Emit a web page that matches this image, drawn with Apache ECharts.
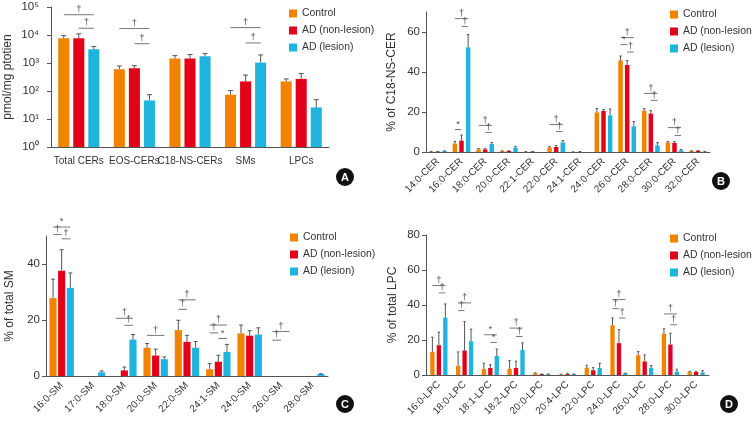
<!DOCTYPE html>
<html>
<head>
<meta charset="utf-8">
<script src="https://cdn.jsdelivr.net/npm/echarts@6/dist/echarts.min.js"></script>
<style>html,body{margin:0;padding:0;background:#fff}#c{width:752px;height:423px}</style>
</head>
<body>
<div id="c"></div>
<script>
// ---------- data ----------
const seriesNames = ['Control', 'AD (non-lesion)', 'AD (lesion)'];

// Panel A (pmol/mg protein, log scale)
const catA = ['Total CERs', 'EOS-CERs', 'C18-NS-CERs', 'SMs', 'LPCs'];
const ctrlA = [7600, 600, 1440, 74, 220];
const nlA = [7600, 650, 1440, 220, 270];
const lesA = [3100, 46, 1730, 1030, 26];
const ctrlAErr = [9500, 780, 1830, 103, 270];
const nlAErr = [11000, 800, 2000, 370, 420];
const lesAErr = [3900, 74, 2170, 1940, 49];
// [category, fromGroup, toGroup, height, mark]
const sigA = [[0,0,2,53000,'†'],[0,1,2,17400,'†'],[1,0,2,17000,'†'],[1,1,2,4900,'†'],[3,0,2,18400,'†'],[3,1,2,5200,'†']];

// Panel B (% of C18-NS-CER)
const catB = ['14:0-CER','16:0-CER','18:0-CER','20:0-CER','22:1-CER','22:0-CER','24:1-CER','24:0-CER','26:0-CER','28:0-CER','30:0-CER','32:0-CER'];
const ctrlB = [0.2, 4.2, 1.3, 0.5, 0.1, 2.3, 0.05, 19.8, 45.8, 20.7, 4.8, 0.5];
const nlB = [0.2, 5.7, 1.3, 0.5, 0.2, 2.5, 0.1, 20.5, 43.5, 19.2, 4.5, 0.6];
const lesB = [0.5, 52.3, 4.0, 2.2, 0, 4.8, 0, 18.3, 12.8, 3.3, 0.8, 0.2];
const ctrlBErr = [0.3, 5.2, 1.7, 0.6, 0.2, 2.8, 0.1, 21.8, 48.0, 21.7, 5.2, 0.6];
const nlBErr = [0.3, 8.5, 1.8, 0.6, 0.3, 3.2, 0.2, 21.2, 45.7, 20.7, 5.2, 0.7];
const lesBErr = [0.6, 58.7, 4.8, 2.8, 0, 5.7, 0, 21.5, 15.2, 4.7, 1.2, 0.3];
const sigB = [[1,0,1,11.2,'*'],[1,0,2,66.7,'†'],[1,1,2,62.8,'†'],[2,0,2,13.3,'†'],[2,1,2,9.8,'†'],[5,0,2,13.7,'†'],[5,1,2,10.2,'†'],[8,0,2,57.2,'†'],[8,0,1,53.7,'*'],[8,1,2,50,'†'],[9,0,2,29.3,'†'],[9,1,2,25.8,'†'],[10,0,2,12.2,'†'],[10,1,2,8.3,'†']];
const ticksB = [0, 20, 40, 60];

// Panel C (% of total SM)
const catC = ['16:0-SM','17:0-SM','18:0-SM','20:0-SM','22:0-SM','24:1-SM','24:0-SM','26:0-SM','28:0-SM'];
const ctrlC = [27.8, 0, 0, 10.1, 16.4, 2.4, 15.2, 0, 0];
const nlC = [37.6, 0, 2.0, 7.3, 12.2, 5.1, 14.4, 0, 0];
const lesC = [31.5, 1.3, 13.0, 6.0, 10.1, 8.6, 14.8, 0, 0.7];
const ctrlCErr = [34.6, 0, 0, 11.6, 19.9, 4.4, 18.2, 0, 0];
const nlCErr = [45.1, 0, 3.2, 9.6, 14.5, 7.4, 16.2, 0, 0];
const lesCErr = [36.8, 1.8, 14.8, 6.8, 12.3, 11.3, 17.2, 0, 0.8];
const sigC = [[0,0,2,53.2,'*'],[0,0,1,50.5,'†'],[0,1,2,49,'†'],[2,0,2,20.6,'†'],[2,1,2,18.1,'†'],[3,0,2,14.5,'†'],[4,0,2,27.2,'†'],[4,0,1,23.8,'†'],[5,0,2,18.2,'†'],[5,0,1,15.4,'†'],[5,1,2,13.4,'*'],[7,0,2,15.9,'†'],[7,0,1,12.8,'†']];
const ticksC = [0, 20, 40];

// Panel D (% of total LPC)
const catD = ['16:0-LPC','18:0-LPC','18:1-LPC','18:2-LPC','20:0-LPC','20:4-LPC','22:0-LPC','24:0-LPC','26:0-LPC','28:0-LPC','30:0-LPC'];
const ctrlD = [13.2, 5.2, 3.4, 3.6, 1.0, 0.3, 4.2, 28.4, 11.3, 23.6, 1.7];
const nlD = [17.0, 14.0, 4.0, 4.0, 0.5, 0.5, 2.7, 18.2, 7.7, 17.4, 1.7];
const lesD = [32.8, 19.3, 10.9, 14.4, 0.5, 0.5, 4.0, 1.0, 4.0, 1.9, 1.5];
const ctrlDErr = [21.6, 13.2, 6.7, 8.2, 1.2, 0.5, 5.6, 32.6, 13.4, 26.4, 2.1];
const nlDErr = [24.5, 30.6, 5.9, 7.9, 0.6, 1.0, 4.2, 25.9, 11.5, 23.9, 2.1];
const lesDErr = [40.6, 26.2, 14.8, 18.4, 0.6, 0.6, 6.7, 1.1, 5.4, 3.3, 2.5];
const sigD = [[0,0,2,51.1,'†'],[0,1,2,46.9,'†'],[1,0,2,41.2,'†'],[1,0,1,36.8,'†'],[2,0,2,23,'*'],[2,1,2,18.6,'*'],[3,0,2,26.8,'†'],[3,1,2,22,'†'],[7,0,2,43.1,'†'],[7,0,1,37.9,'†'],[7,1,2,32.6,'†'],[9,0,2,34.9,'†'],[9,1,2,28.7,'†']];
const ticksD = [0, 20, 40, 60, 80];

// ---------- styling / layout ----------
const colors = ['#F28300', '#E2001A', '#1FB4DD'];
const FONT = 'Liberation Sans, Arial, Helvetica, sans-serif';
const TXT = '#333';
const AXIS = '#555';
const panels = [
  { cats: catA, vals: [ctrlA, nlA, lesA], errs: [ctrlAErr, nlAErr, lesAErr], sig: sigA, cat: 0.26, gap: 0.36,
    grid: { left: 51, top: 7, width: 278, height: 140 }, name: 'pmol/mg ptotien', nameGap: 37, labelMargin: 12,
    legend: { left: 284, top: 3 }, badge: ['A', 345, 177] },
  { cats: catB, vals: [ctrlB, nlB, lesB], errs: [ctrlBErr, nlBErr, lesBErr], sig: sigB, cat: 0.25, gap: 0.48,
    grid: { left: 426, top: 12, width: 284, height: 140 }, name: '% of C18-NS-CER', nameGap: 28, labelMargin: 6,
    legend: { left: 665, top: 4 }, badge: ['B', 721, 181] },
  { cats: catC, vals: [ctrlC, nlC, lesC], errs: [ctrlCErr, nlCErr, lesCErr], sig: sigC, cat: 0.22, gap: 0.21,
    grid: { left: 46, top: 236, width: 282, height: 140 }, name: '% of total SM', nameGap: 30, labelMargin: 6,
    legend: { left: 285, top: 227 }, badge: ['C', 345, 404] },
  { cats: catD, vals: [ctrlD, nlD, lesD], errs: [ctrlDErr, nlDErr, lesDErr], sig: sigD, cat: 0.33, gap: 0.5,
    grid: { left: 426, top: 235, width: 283, height: 140 }, name: '% of total LPC', nameGap: 27, labelMargin: 6,
    legend: { left: 665, top: 228 }, badge: ['D', 729, 404] }
];
const yCfg = [
  { type: 'log', logBase: 10, min: 1, max: 100000 },
  { type: 'value', min: 0, max: 70, ticks: ticksB },
  { type: 'value', min: 0, max: 50, ticks: ticksC },
  { type: 'value', min: 0, max: 80, ticks: ticksD }
];
const sup = ['⁰','¹','²','³','⁴','⁵'];

function geom(api, k) {
  const band = api.size([1, 1])[0];
  const P = panels[k];
  const bw = band * (1 - P.cat) / (3 + 2 * P.gap);
  return { bw: bw, pitch: bw * (1 + P.gap) };
}

const grid = [], xAxis = [], yAxis = [], series = [], legend = [], graphic = [];
panels.forEach(function (P, k) {
  grid.push(Object.assign({ containLabel: false }, P.grid));
  xAxis.push({
    type: 'category', gridIndex: k, data: P.cats,
    axisLine: { lineStyle: { color: AXIS, width: 1 } },
    axisTick: { alignWithLabel: true, length: 4, lineStyle: { color: AXIS } },
    axisLabel: { interval: 0, rotate: k === 0 ? 0 : 45, fontSize: 10, color: TXT, fontFamily: FONT, margin: k === 0 ? 9 : 8 }
  });
  const y = yCfg[k];
  const ya = {
    type: y.type, gridIndex: k, min: y.min, max: y.max,
    name: P.name, nameLocation: 'middle', nameGap: P.nameGap,
    nameTextStyle: { fontSize: 12, color: TXT, fontFamily: FONT },
    axisLine: { show: true, lineStyle: { color: AXIS, width: 1 } },
    axisTick: { show: true, length: 4, lineStyle: { color: AXIS } },
    splitLine: { show: false },
    axisLabel: { fontSize: 11.5, color: TXT, fontFamily: FONT, margin: P.labelMargin }
  };
  if (y.type === 'log') {
    ya.logBase = 10;
    ya.axisLabel.formatter = function (v) { return '10' + sup[Math.round(Math.log10(v))]; };
  } else {
    ya.axisLabel.customValues = y.ticks;
    ya.axisTick.customValues = y.ticks;
  }
  yAxis.push(ya);

  // bars
  for (let i = 0; i < 3; i++) {
    series.push({
      type: 'bar', name: seriesNames[i], xAxisIndex: k, yAxisIndex: k,
      data: P.vals[i], itemStyle: { color: colors[i] },
      barCategoryGap: Math.round(P.cat * 100) + '%', barGap: Math.round(P.gap * 100) + '%',
      silent: true, animation: false
    });
  }
  // error bars
  const ed = [];
  for (let i = 0; i < 3; i++) {
    P.vals[i].forEach(function (v, j) {
      const e = P.errs[i][j];
      if (e > v) ed.push([j, v, e, i]);
    });
  }
  series.push({
    type: 'custom', xAxisIndex: k, yAxisIndex: k, data: ed, z: 5, silent: true, animation: false,
    encode: { x: 0, y: [1, 2] },
    renderItem: function (params, api) {
      const j = api.value(0), v = api.value(1), e = api.value(2), s = api.value(3);
      const g = geom(api, k);
      const p0 = api.coord([j, v]), p1 = api.coord([j, e]);
      const x = p0[0] + (s - 1) * g.pitch;
      const cap = Math.min(g.bw * 0.55, 5) / 2;
      const st = { stroke: '#555', lineWidth: 1 };
      return { type: 'group', children: [
        { type: 'line', shape: { x1: x, y1: p0[1], x2: x, y2: p1[1] }, style: st },
        { type: 'line', shape: { x1: x - cap, y1: p1[1], x2: x + cap, y2: p1[1] }, style: st }
      ] };
    }
  });
  // significance marks
  const sd = P.sig.map(function (s) { return [s[0], s[1], s[2], s[3]]; });
  series.push({
    type: 'custom', xAxisIndex: k, yAxisIndex: k, data: sd, z: 6, silent: true, animation: false, clip: false,
    encode: { x: 0, y: 3 },
    renderItem: function (params, api) {
      const rec = P.sig[params.dataIndex];
      const g = geom(api, k);
      const c = api.coord([rec[0], rec[3]]);
      const x1 = c[0] + (rec[1] - 1) * g.pitch, x2 = c[0] + (rec[2] - 1) * g.pitch;
      return { type: 'group', children: [
        { type: 'line', shape: { x1: x1, y1: c[1], x2: x2, y2: c[1] }, style: { stroke: '#777', lineWidth: 1 } },
        { type: 'text', x: (x1 + x2) / 2, y: c[1] - 0.5,
          style: { text: rec[4], fill: '#555', font: '9.5px ' + FONT, align: 'center', verticalAlign: 'bottom' } }
      ] };
    }
  });

  legend.push({
    orient: 'vertical', left: P.legend.left, top: P.legend.top, data: seriesNames,
    icon: 'rect', itemWidth: 8, itemHeight: 8, itemGap: 6, selectedMode: false,
    textStyle: { fontSize: 10.4, color: TXT, fontFamily: FONT, lineHeight: 11 }
  });

  const b = P.badge;
  graphic.push({ type: 'circle', shape: { cx: b[1], cy: b[2], r: 9 }, style: { fill: '#111' } });
  graphic.push({ type: 'text', x: b[1], y: b[2] + 0.5,
    style: { text: b[0], fill: '#fff', font: 'bold 11px ' + FONT, align: 'center', verticalAlign: 'middle' } });
});

const chart = echarts.init(document.getElementById('c'), null, { renderer: 'canvas' });
chart.setOption({
  animation: false,
  backgroundColor: '#fff',
  textStyle: { fontFamily: FONT },
  grid: grid, xAxis: xAxis, yAxis: yAxis, series: series, legend: legend, graphic: graphic
});
</script>
</body>
</html>
